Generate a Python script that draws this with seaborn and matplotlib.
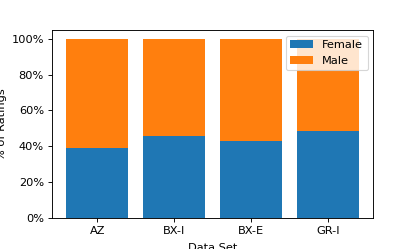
import matplotlib
matplotlib.use("Agg")
import matplotlib.pyplot as plt
from matplotlib.ticker import PercentFormatter
import seaborn as sns

# Data
datasets = ["AZ", "BX-I", "BX-E", "GR-I"]
female = [0.388, 0.459, 0.429, 0.483]
male = [1 - f for f in female]
totals = [f + m for f, m in zip(female, male)]

fig, ax = plt.subplots(figsize=(415 / 82, 249 / 82), dpi=82)
fig.subplots_adjust(left=0.125, right=0.9, top=0.88, bottom=0.125)

# full bar (male on top) first, then female share over it
sns.barplot(x=datasets, y=totals, color="#ff7f0e", saturation=1, label="Male", ax=ax, width=0.8)
sns.barplot(x=datasets, y=female, color="#1f77b4", saturation=1, label="Female", ax=ax, width=0.8)

ax.set_xlim(-0.59, 3.59)
ax.set_ylim(0, 1.05)
ax.yaxis.set_major_formatter(PercentFormatter(1, decimals=0))
ax.set_xlabel("Data Set", labelpad=6)
ax.set_ylabel("% of Ratings")

handles, labels = ax.get_legend_handles_labels()
ax.legend(handles[::-1], labels[::-1], loc="upper right")

fig.savefig("out.png", dpi=82)
